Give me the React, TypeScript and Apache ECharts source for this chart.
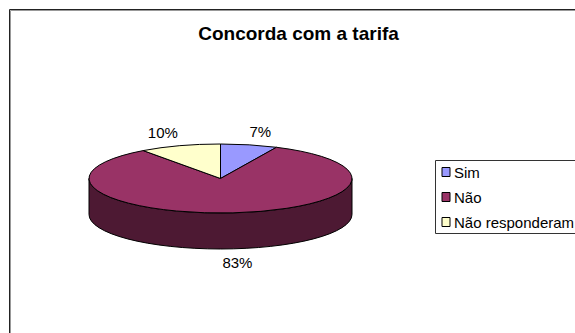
import React, { useEffect, useRef } from "react";
import * as echarts from "echarts";

const categories = ["Sim", "Não", "Não responderam"];
const values = [7, 83, 10];
const sliceColors = ["#9999FF", "#993366", "#FFFFCC"];
const sideColors = ["#4D4D80", "#4D1933", "#808066"];
const titleText = "Concorda com a tarifa";

const FONT = '"Liberation Sans", Arial, sans-serif';
const CX = 220.5;
const CY = 178.5;
const RX = 131.5;
const RY = 34.5;
const DEPTH = 36;
const LABEL_RX = 185;
const LABEL_RY = 47.5;
const TOTAL = values.reduce((a, b) => a + b, 0);

const pt = (deg: number, dy = 0): [number, number] => {
  const r = (deg * Math.PI) / 180;
  return [CX + RX * Math.sin(r), CY - RY * Math.cos(r) + dy];
};

const renderSlice = (index: number) => (_params: any, api: any) => {
  const value = api.value(0);
  const before = values.slice(0, index).reduce((a, b) => a + b, 0);
  const start = (before / TOTAL) * 360;
  const end = start + (value / TOTAL) * 360;
  const [x1, y1] = pt(start);
  const [x2, y2] = pt(end);
  const large = end - start > 180 ? 1 : 0;
  const children: any[] = [];

  const sideStart = Math.max(start, 90);
  const sideEnd = Math.min(end, 270);
  if (sideEnd > sideStart) {
    const [a1, b1] = pt(sideStart);
    const [a2, b2] = pt(sideEnd);
    children.push({
      type: "path",
      shape: {
        pathData: `M${a1} ${b1}A${RX} ${RY} 0 0 1 ${a2} ${b2}L${a2} ${b2 + DEPTH}A${RX} ${RY} 0 0 0 ${a1} ${b1 + DEPTH}Z`,
      },
      style: { fill: sideColors[index], stroke: "#000", lineWidth: 1 },
    });
  }

  children.push({
    type: "path",
    shape: {
      pathData: `M${CX} ${CY}L${x1} ${y1}A${RX} ${RY} 0 ${large} 1 ${x2} ${y2}Z`,
    },
    style: { fill: sliceColors[index], stroke: "#000", lineWidth: 1 },
  });

  const mid = (((start + end) / 2) * Math.PI) / 180;
  const cos = Math.cos(mid);
  children.push({
    type: "text",
    style: {
      x: CX + LABEL_RX * Math.sin(mid) - 0.5,
      y: CY - LABEL_RY * cos + (cos < 0 ? DEPTH + 1 : -1),
      text: `${value}%`,
      fill: "#000",
      font: `15px ${FONT}`,
      align: "center",
      verticalAlign: "middle",
    },
  });

  return { type: "group", children };
};

export default function App() {
  const ref = useRef<HTMLDivElement>(null);

  useEffect(() => {
    document.body.style.margin = "0";
    const chart = echarts.init(ref.current!, null, { renderer: "svg" });
    chart.setOption({
      animation: false,
      backgroundColor: "#fff",
      title: {
        text: titleText,
        left: 293.5,
        top: 19,
        textAlign: "center",
        textStyle: { fontFamily: FONT, fontSize: 19, fontWeight: "bold", color: "#000" },
      },
      legend: {
        orient: "vertical",
        left: 435.5,
        top: 160.5,
        padding: [3, 6, 3, 6],
        itemWidth: 8,
        itemHeight: 9,
        itemGap: 8,
        borderColor: "#333",
        borderWidth: 1,
        backgroundColor: "#fff",
        icon: "rect",
        selectedMode: false,
        itemStyle: { borderColor: "#000", borderWidth: 1 },
        textStyle: { fontFamily: FONT, fontSize: 15, color: "#000", padding: [0, 0, 0, -1], lineHeight: 17 },
        data: categories,
      },
      graphic: [
        {
          type: "polyline",
          silent: true,
          shape: { points: [[10.5, 333], [10.5, 10.5], [575, 10.5]] },
          style: { fill: "none", stroke: "#999", lineWidth: 1 },
        },
        {
          type: "polyline",
          silent: true,
          shape: { points: [[9.5, 333], [9.5, 9.5], [575, 9.5]] },
          style: { fill: "none", stroke: "#222", lineWidth: 1 },
        },
      ],
      series: categories.map((name, i) => ({
        type: "custom",
        name,
        coordinateSystem: "none",
        itemStyle: { color: sliceColors[i] },
        renderItem: renderSlice(i),
        data: [[values[i]]],
      })),
    });
    return () => chart.dispose();
  }, []);

  return <div ref={ref} style={{ width: 575, height: 333, position: "fixed", left: 0, top: 0 }} />;
}
